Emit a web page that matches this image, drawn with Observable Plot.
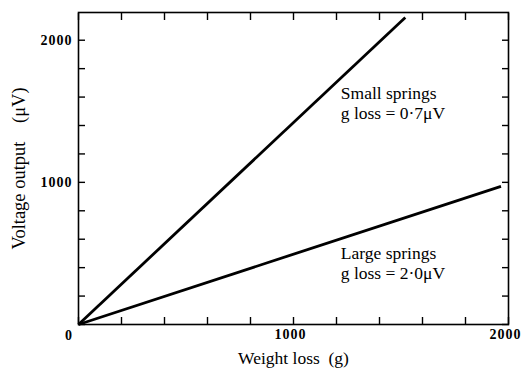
<!DOCTYPE html>
<html>
<head>
<meta charset="utf-8">
<script src="https://cdn.jsdelivr.net/npm/d3@7"></script>
<script src="https://cdn.jsdelivr.net/npm/@observablehq/plot@0.6"></script>
<style>
  html, body { margin: 0; padding: 0; background: #fff; }
  svg { display: block; }
</style>
</head>
<body>
<div id="chart"></div>
<script>
// --- Data ---
const smallWeight = [0, 1520];
const smallVoltage = [0, 2160];
const largeWeight = [0, 1965];
const largeVoltage = [0, 972];

const xMinorTicks = [0, 200, 400, 600, 800, 1000, 1200, 1400, 1600, 1800, 2000];
const yMinorTicks = [0, 200, 400, 600, 800, 1000, 1200, 1400, 1600, 1800, 2000];
const xLabelTicks = [1000, 2000];
const yLabelTicks = [1000, 2000];
const cornerLabel = ["0"];

const annoX = [1220, 1220];
const annoY = [1563, 436];
const annoText = ["Small springs\ng loss = 0\u00B77\u03BCV", "Large springs\ng loss = 2\u00B70\u03BCV"];

const xTitle = "Weight loss\u2002(g)";
const yTitle = "Voltage output\u2003(\u03BCV)";

// --- Build tables ---
const lines = [
  ...smallWeight.map((w, i) => ({series: "small", weight: w, voltage: smallVoltage[i]})),
  ...largeWeight.map((w, i) => ({series: "large", weight: w, voltage: largeVoltage[i]}))
];
const annos = annoText.map((t, i) => ({x: annoX[i], y: annoY[i], t}));

const font = "Liberation Serif";

const chart = Plot.plot({
  width: 523,
  height: 374,
  marginLeft: 78,
  marginRight: 15,
  marginTop: 12,
  marginBottom: 50,
  style: {fontFamily: font, fontSize: "14px", fontWeight: "bold", background: "#fff", color: "#000"},
  x: {domain: [0, 2000]},
  y: {domain: [0, 2195]},
  marks: [
    Plot.frame({stroke: "#000", strokeWidth: 1.6}),
    // inward ticks on all four sides
    Plot.axisX({anchor: "bottom", ticks: xMinorTicks, tickSize: -7, tickFormat: () => "", label: null, strokeWidth: 1.4}),
    Plot.axisX({anchor: "top", ticks: xMinorTicks, tickSize: -7, tickFormat: () => "", label: null, strokeWidth: 1.4}),
    Plot.axisY({anchor: "left", ticks: yMinorTicks, tickSize: -7, tickFormat: () => "", label: null, strokeWidth: 1.4}),
    Plot.axisY({anchor: "right", ticks: yMinorTicks, tickSize: -7, tickFormat: () => "", label: null, strokeWidth: 1.4}),
    // tick labels
    Plot.axisX({anchor: "bottom", ticks: xLabelTicks, tickSize: 0, tickPadding: 5, label: null,
      tickFormat: d => String(d), dx: -3, fontSize: 14}),
    Plot.axisY({anchor: "left", ticks: yLabelTicks, tickSize: 0, tickPadding: 6, label: null,
      tickFormat: d => String(d), fontSize: 14}),
    Plot.text(cornerLabel, {x: () => 0, y: () => 0, text: d => d, dx: -10, dy: 11,
      fontSize: 14, fontWeight: "bold", fontFamily: font}),
    // the two lines
    Plot.line(lines, {x: "weight", y: "voltage", z: "series", stroke: "#000", strokeWidth: 2.8, strokeLinecap: "butt"}),
    // annotations
    Plot.text(annos, {x: "x", y: "y", text: "t", textAnchor: "start", lineAnchor: "middle",
      fontSize: 17.5, fontWeight: "normal", lineHeight: 1.15, fontFamily: font, fill: "#000"}),
    // axis titles
    Plot.text([xTitle], {frameAnchor: "bottom", dy: 34, text: d => d, textAnchor: "middle", lineAnchor: "middle",
      fontSize: 17.5, fontWeight: "normal", fontFamily: font}),
    Plot.text([yTitle], {frameAnchor: "left", dx: -59, rotate: -90, text: d => d, textAnchor: "middle", lineAnchor: "middle",
      fontSize: 18.5, fontWeight: "normal", fontFamily: font})
  ]
});

d3.select(chart).selectAll('g[aria-label*="tick label"] text').attr("letter-spacing", "1px");

document.getElementById("chart").appendChild(chart);
</script>
</body>
</html>
